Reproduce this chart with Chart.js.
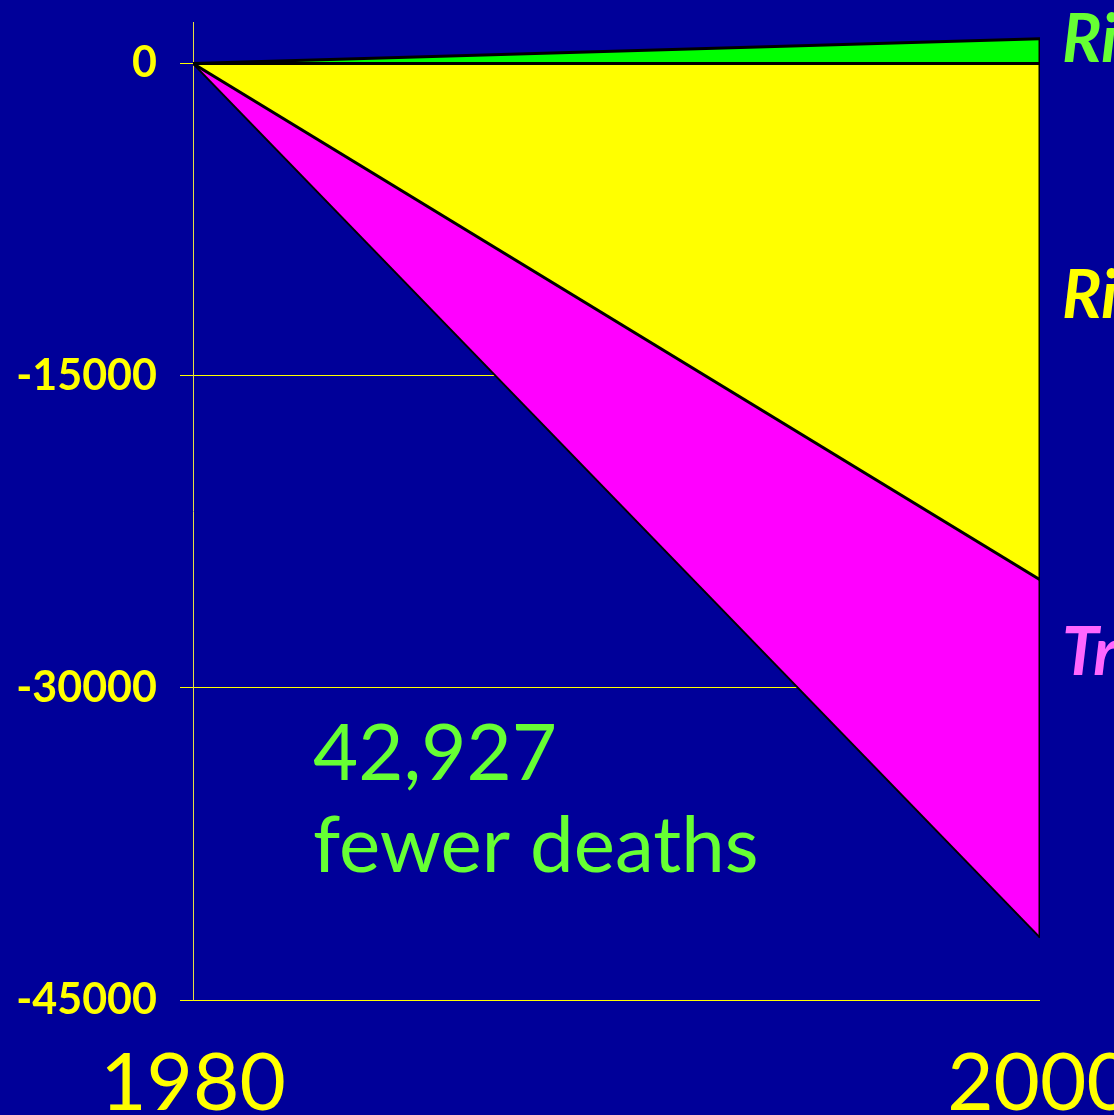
<!DOCTYPE html>
<html>
<head>
<meta charset="utf-8">
<script src="https://cdn.jsdelivr.net/npm/chart.js@4.4.0/dist/chart.umd.min.js"></script>
<style>
  html, body { margin: 0; padding: 0; background: #000099; }
  #wrap { width: 1114px; height: 1115px; position: relative; }
</style>
</head>
<body>
<div id="wrap"><canvas id="deathsChart"></canvas></div>
<script>
// Data (change in deaths vs 1980)
let years = [1980, 2000];
let zeroLine = [0, 0];
let riskRise = [0, 1200];        // green wedge above zero
let riskFall = [0, -24800];      // yellow wedge, bottom edge
let treatments = [0, -42000];    // magenta wedge, bottom edge
let yTicks = [-45000, -30000, -15000, 0];
let xTicks = [1980, 2000];

let sideLabels = ['Risk factors rising', 'Risk factors falling', 'Treatments'];
let sideColors = ['#66ff33', '#ffff00', '#ff66ff'];
let noteLines = ['42,927', 'fewer deaths'];

function toPoints(vals) {
    return vals.map((v, i) => ({ x: years[i], y: v }));
}

// text labels next to the chart and the note inside it
const textPlugin = {
    id: 'textPlugin',
    afterDraw(chart) {
        const ctx = chart.ctx;
        const area = chart.chartArea;
        ctx.save();
        ctx.textAlign = 'left';
        ctx.textBaseline = 'alphabetic';
        ctx.font = 'italic bold 66px "Comic Sans MS", Lato, sans-serif';
        const baseY = [62, 318, 675];
        for (let i in sideLabels) {
            ctx.fillStyle = sideColors[i];
            ctx.fillText(sideLabels[i], area.right + 22, baseY[i]);
        }
        ctx.font = '78px "Comic Sans MS", Lato, sans-serif';
        ctx.fillStyle = '#66ff33';
        ctx.fillText(noteLines[0], area.left + 120, 780);
        ctx.fillText(noteLines[1], area.left + 120, 872);
        ctx.restore();
    }
};

const outline = '#000000';

new Chart(document.getElementById('deathsChart'), {
    type: 'line',
    data: {
        datasets: [
            { data: toPoints(zeroLine), borderColor: outline, borderWidth: 3, fill: false, order: 0 },
            { data: [{ x: years[1], y: riskRise[1] }, { x: years[1], y: treatments[1] }],
              borderColor: outline, borderWidth: 3, fill: false, order: 0 },
            { data: toPoints(riskRise), borderColor: outline, borderWidth: 3,
              backgroundColor: '#00ff00', fill: 0, order: 1 },
            { data: toPoints(riskFall), borderColor: outline, borderWidth: 3,
              backgroundColor: '#ffff00', fill: 0, order: 1 },
            { data: toPoints(treatments), borderColor: outline, borderWidth: 2,
              backgroundColor: '#ff00ff', fill: 3, order: 1 }
        ]
    },
    options: {
        responsive: true,
        maintainAspectRatio: false,
        animation: false,
        elements: { point: { radius: 0 }, line: { tension: 0 } },
        layout: { padding: { top: 22, right: 74, left: 0, bottom: 0 } },
        plugins: { legend: { display: false }, tooltip: { enabled: false } },
        scales: {
            x: {
                type: 'linear',
                min: 1980,
                max: 2000,
                afterBuildTicks: (axis) => { axis.ticks = xTicks.map(v => ({ value: v })); },
                afterFit: (axis) => { axis.height = 115; axis.paddingLeft = 0; axis.paddingRight = 0; },
                grid: { display: false },
                border: { display: false },
                ticks: {
                    color: '#ffff00',
                    font: { family: '"Comic Sans MS", Lato, sans-serif', size: 80 },
                    padding: 28,
                    maxRotation: 0,
                    callback: (v) => String(v)
                }
            },
            y: {
                min: -45000,
                max: 2000,
                afterBuildTicks: (axis) => { axis.ticks = yTicks.map(v => ({ value: v })); },
                afterFit: (axis) => { axis.width = 193; axis.paddingTop = 0; axis.paddingBottom = 0; },
                grid: { color: '#ffff00', lineWidth: 1, tickLength: 13 },
                border: { color: '#e8e040', width: 1 },
                ticks: {
                    color: '#ffff00',
                    padding: 23,
                    font: { family: '"Comic Sans MS", Lato, sans-serif', size: 43, weight: 'bold' },
                    callback: (v) => String(v)
                }
            }
        }
    },
    plugins: [textPlugin]
});
</script>
</body>
</html>
